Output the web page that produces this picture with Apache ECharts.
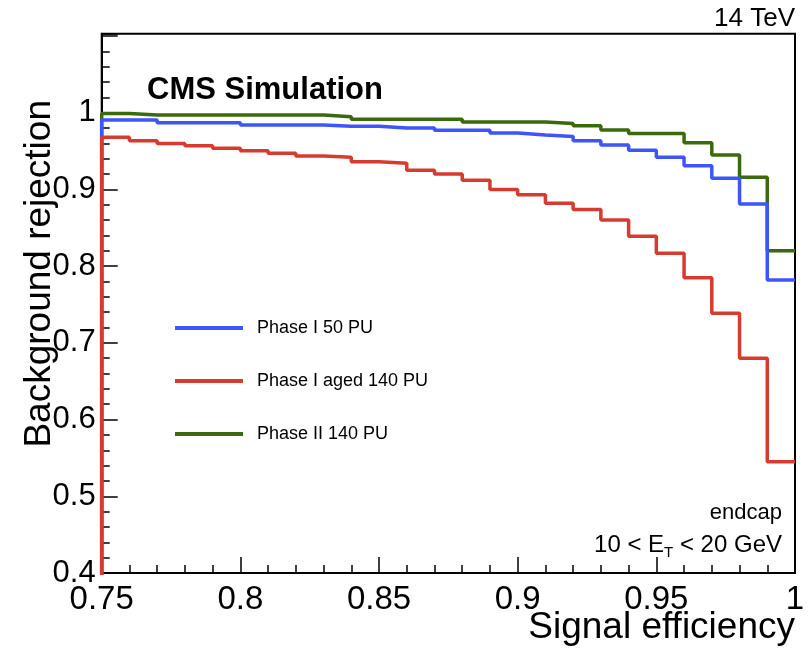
<!DOCTYPE html>
<html>
<head>
<meta charset="utf-8">
<script src="https://cdn.jsdelivr.net/npm/echarts@6/dist/echarts.min.js"></script>
<style>
html,body{margin:0;padding:0;background:#fff;}
#chart{width:812px;height:652px;}
</style>
</head>
<body>
<div id="chart"></div>
<script>
// ---- data ----
const binEdges = [0.75,0.76,0.77,0.78,0.79,0.80,0.81,0.82,0.83,0.84,0.85,0.86,0.87,0.88,0.89,0.90,0.91,0.92,0.93,0.94,0.95,0.96,0.97,0.98,0.99,1.00];
const phase1_50PU = [0.9905,0.9905,0.987,0.987,0.987,0.984,0.984,0.984,0.9825,0.9825,0.980,0.980,0.977,0.977,0.9735,0.971,0.969,0.9635,0.958,0.951,0.942,0.931,0.9145,0.881,0.782];
const phase1aged_140PU = [0.968,0.9635,0.960,0.957,0.9536,0.9505,0.947,0.9435,0.9418,0.936,0.934,0.925,0.920,0.912,0.900,0.893,0.882,0.874,0.860,0.839,0.8167,0.785,0.7385,0.680,0.545];
const phase2_140PU = [0.999,0.997,0.997,0.997,0.997,0.997,0.997,0.997,0.9948,0.9914,0.9914,0.9914,0.9914,0.988,0.988,0.988,0.986,0.983,0.9775,0.973,0.973,0.961,0.945,0.916,0.820];
const seriesNames = ['Phase I 50 PU','Phase I aged 140 PU','Phase II 140 PU'];
const xTickLabels = ['0.75','0.8','0.85','0.9','0.95','1'];
const yTickLabels = ['0.4','0.5','0.6','0.7','0.8','0.9','1'];

function histPoints(vals){
  const pts = [[binEdges[0], 0]];
  for (let i = 0; i < vals.length; i++) pts.push([binEdges[i], vals[i]]);
  pts.push([binEdges[binEdges.length-1], vals[vals.length-1]]);
  return pts;
}

const FONT = "'Liberation Sans', Arial, Helvetica, sans-serif";
const chart = echarts.init(document.getElementById('chart'), null, {renderer:'canvas'});

function mkSeries(name, vals, color){
  return {
    name: name, type: 'line', step: 'end', data: histPoints(vals),
    symbol: 'none', showSymbol: false, clip: true,
    lineStyle: {color: color, width: 3.5}, itemStyle: {color: color},
    animation: false
  };
}

const option = {
  backgroundColor: '#fff',
  animation: false,
  grid: {left: 101.7, right: 17, top: 33.7, bottom: 79, show: true, borderColor: '#000', borderWidth: 2, backgroundColor: 'transparent'},
  xAxis: {
    type: 'value', min: 0.75, max: 1.0, interval: 0.05,
    axisLine: {show: true, lineStyle: {color: '#000', width: 2}},
    axisTick: {show: true, inside: true, length: 16, lineStyle: {color: '#000', width: 1.5}},
    minorTick: {show: true, splitNumber: 5, length: 8, lineStyle: {color: '#000', width: 1.5}},
    splitLine: {show: false}, minorSplitLine: {show: false},
    axisLabel: {
      color: '#000', fontSize: 33, fontFamily: FONT, margin: 10,
      formatter: function(v){ const i = Math.round((v - 0.75) / 0.05); return (Math.abs(v - (0.75 + i*0.05)) < 1e-6 && xTickLabels[i] !== undefined) ? xTickLabels[i] : ''; }
    }
  },
  yAxis: {
    type: 'value', min: 0.4, max: 1.103, interval: 0.1,
    axisLine: {show: true, lineStyle: {color: '#000', width: 2}},
    axisTick: {show: true, inside: true, length: 16, lineStyle: {color: '#000', width: 1.5}},
    minorTick: {show: true, splitNumber: 5, length: 8, lineStyle: {color: '#000', width: 1.5}},
    splitLine: {show: false}, minorSplitLine: {show: false},
    axisLabel: {
      color: '#000', fontSize: 31, fontFamily: FONT, margin: 6,
      formatter: function(v){ const i = Math.round((v - 0.4) / 0.1); return (Math.abs(v - (0.4 + i*0.1)) < 1e-6 && yTickLabels[i] !== undefined) ? yTickLabels[i] : ''; }
    }
  },
  legend: {
    data: seriesNames, orient: 'vertical', left: 170, top: 313,
    icon: 'rect', itemWidth: 68, itemHeight: 4, itemGap: 33,
    textStyle: {color: '#000', fontSize: 18, fontFamily: FONT, lineHeight: 20, padding: [0,0,0,9]},
    selectedMode: false
  },
  series: [
    mkSeries(seriesNames[2], phase2_140PU, '#3a6a0c'),
    mkSeries(seriesNames[0], phase1_50PU, '#3d55fa'),
    mkSeries(seriesNames[1], phase1aged_140PU, '#d73a2e')
  ],
  graphic: [
    {type: 'text', x: 795, y: 19, style: {text: '14 TeV', align: 'right', verticalAlign: 'middle', fill: '#000', font: "26px " + FONT}},
    {type: 'text', x: 147, y: 90, style: {text: 'CMS Simulation', align: 'left', verticalAlign: 'middle', fill: '#000', font: "bold 31px " + FONT}},
    {type: 'text', x: 782, y: 513, style: {text: 'endcap', align: 'right', verticalAlign: 'middle', fill: '#000', font: "22px " + FONT}},
    {type: 'text', x: 782, y: 545, style: {
      text: '10 < E{sub|T} < 20 GeV', align: 'right', verticalAlign: 'middle', fill: '#000', font: "24px " + FONT,
      rich: {sub: {fontSize: 15, fontFamily: FONT, fill: '#000', padding: [16, 0, 0, 0]}}
    }},
    {type: 'text', x: 40, y: 100, rotation: Math.PI/2, style: {text: 'Background rejection', align: 'right', verticalAlign: 'middle', fill: '#000', font: "37px " + FONT}},
    {type: 'text', x: 795, y: 628, style: {text: 'Signal efficiency', align: 'right', verticalAlign: 'middle', fill: '#000', font: "37px " + FONT}}
  ]
};
chart.setOption(option);
</script>
</body>
</html>
